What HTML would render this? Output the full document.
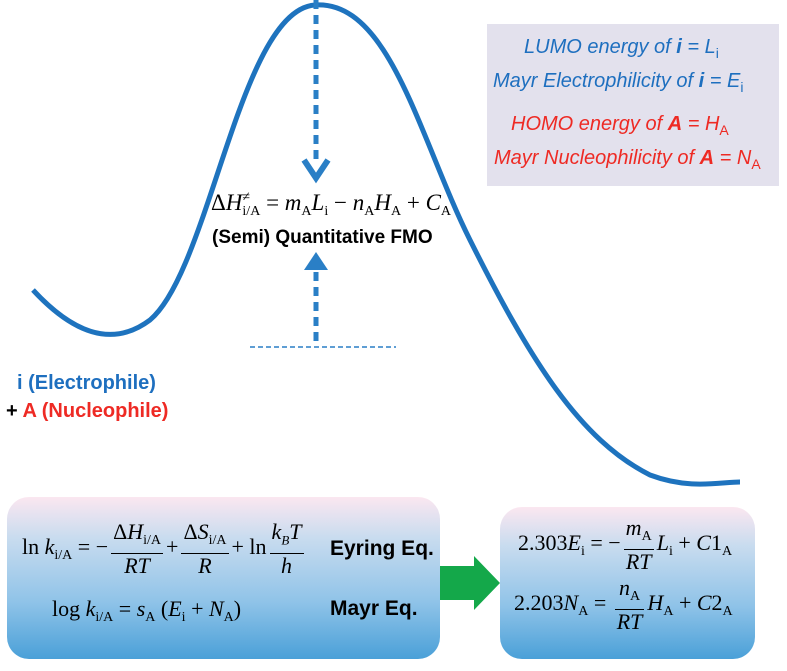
<!DOCTYPE html>
<html><head><meta charset="utf-8"><style>
body{margin:0;width:787px;height:671px;background:#fff;position:relative;overflow:hidden;font-family:"Liberation Sans",sans-serif}
.a{position:absolute;white-space:nowrap}
.m{font-family:"Liberation Serif",serif;font-size:22px;color:#000}
.m i{font-style:italic}
.s{font-size:14px;vertical-align:-5px;font-style:normal;display:inline}
.fr{display:inline-block;vertical-align:middle;text-align:center;margin:0 3px}
.fr>span{display:block;line-height:24px;padding:0 2px}
.fr>.n{border-bottom:1px solid #000}
.box{position:absolute;border-radius:22px;background:linear-gradient(#fbe7f0 0%,#c9dcef 25%,#8fc3e8 65%,#4aa0d8 100%)}
.lbl{font-weight:bold;font-size:20px}
.r{font-style:italic;font-size:20px}
</style></head><body>
<svg class="a" style="left:0;top:0" width="787" height="671">
<path d="M33,290 C70,330 110,350 150,320 C210,270 240,10 315,5 C390,0 420,140 470,240 C530,360 580,440 650,475 C690,490 720,482 740,482" fill="none" stroke="#1e73be" stroke-width="5"/>
<line x1="316" y1="0" x2="316" y2="160" stroke="#2a7fc6" stroke-width="5" stroke-dasharray="9,6"/>
<polyline points="304,160 316,178 328,160" fill="none" stroke="#2a7fc6" stroke-width="6"/>
<polygon points="304,270 316,252 328,270" fill="#2a7fc6"/>
<line x1="316" y1="272" x2="316" y2="342" stroke="#2a7fc6" stroke-width="5" stroke-dasharray="9,6"/>
<line x1="250" y1="347" x2="396" y2="347" stroke="#2a7fc6" stroke-width="1.5" stroke-dasharray="5,3"/>
<polygon points="440,566 474,566 474,556 500,583 474,610 474,600 440,600" fill="#14a84a"/>
</svg>
<div class="a" style="left:487px;top:24px;width:292px;height:162px;background:#e3e1ed"></div>
<div class="a r" style="left:524px;top:36px;color:#1e6fbf">LUMO energy of <b>i</b> = L<span class="s">i</span></div>
<div class="a r" style="left:493px;top:70px;color:#1e6fbf">Mayr Electrophilicity of <b>i</b> = E<span class="s">i</span></div>
<div class="a r" style="left:511px;top:113px;color:#ee2a24">HOMO energy of <b>A</b> = H<span class="s">A</span></div>
<div class="a r" style="left:494px;top:147px;color:#ee2a24">Mayr Nucleophilicity of <b>A</b> = N<span class="s">A</span></div>
<div class="a m" style="left:211px;top:190px;font-size:23px">Δ<i>H</i><span class="s" style="position:relative"><span style="position:absolute;top:-14px;left:0">≠</span>i/A</span> = <i>m</i><span class="s">A</span><i>L</i><span class="s">i</span> − <i>n</i><span class="s">A</span><i>H</i><span class="s">A</span> + <i>C</i><span class="s">A</span></div>
<div class="a lbl" style="left:212px;top:227px;font-size:19px">(Semi) Quantitative FMO</div>
<div class="a lbl" style="left:17px;top:372px;color:#1e6fbf">i (Electrophile)</div>
<div class="a lbl" style="left:6px;top:400px">+ <span style="color:#ee2a24">A (Nucleophile)</span></div>
<div class="box" style="left:7px;top:497px;width:433px;height:162px"></div>
<div class="box" style="left:500px;top:507px;width:255px;height:152px"></div>
<div class="a m" style="left:22px;top:520px">ln <i>k</i><span class="s">i/A</span> = −<span class="fr"><span class="n">Δ<i>H</i><span class="s">i/A</span></span><span><i>RT</i></span></span>+<span class="fr"><span class="n">Δ<i>S</i><span class="s">i/A</span></span><span><i>R</i></span></span>+ ln<span class="fr"><span class="n"><i>k<sub style="font-size:13px">B</sub>T</i></span><span><i>h</i></span></span></div>
<div class="a lbl" style="left:330px;top:537px;font-size:21px">Eyring Eq.</div>
<div class="a m" style="left:52px;top:596px">log <i>k</i><span class="s">i/A</span> = <i>s</i><span class="s">A</span> (<i>E</i><span class="s">i</span> + <i>N</i><span class="s">A</span>)</div>
<div class="a lbl" style="left:330px;top:597px;font-size:21px">Mayr Eq.</div>
<div class="a m" style="left:518px;top:516px">2.303<i>E</i><span class="s">i</span> = −<span class="fr"><span class="n"><i>m</i><span class="s">A</span></span><span><i>RT</i></span></span><i>L</i><span class="s">i</span> + <i>C</i>1<span class="s">A</span></div>
<div class="a m" style="left:514px;top:576px">2.203<i>N</i><span class="s">A</span> = <span class="fr"><span class="n"><i>n</i><span class="s">A</span></span><span><i>RT</i></span></span><i>H</i><span class="s">A</span> + <i>C</i>2<span class="s">A</span></div>
</body></html>
